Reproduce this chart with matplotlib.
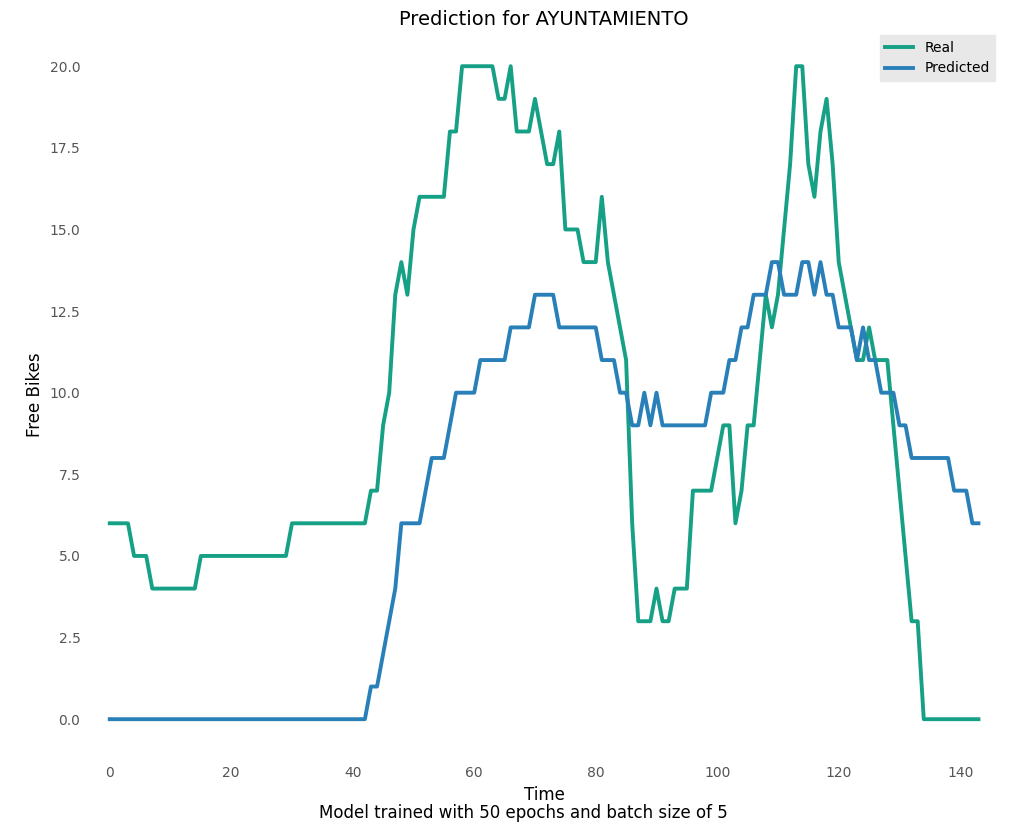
import numpy as np
import matplotlib.pyplot as plt

# real free bikes, one value per time step (0..143)
real = ([6]*4 + [5]*3 + [4]*8 + [5]*15 + [6]*13 + [7, 7, 9, 10, 13, 14, 13, 15]
        + [16]*5 + [18, 18] + [20]*6 + [19, 19, 20, 18, 18, 18, 19, 18, 17, 17, 18]
        + [15, 15, 15, 14, 14, 14, 16, 14, 13, 12, 11, 6, 3, 3, 3, 4, 3, 3, 4, 4, 4]
        + [7, 7, 7, 7, 8, 9, 9, 6, 7, 9, 9, 11, 13, 12, 13, 15, 17, 20, 20, 17, 16]
        + [18, 19, 17, 14, 13, 12, 11, 11, 12, 11, 11, 11, 9, 7, 5, 3, 3] + [0]*10)

predicted = ([0]*43 + [1, 1, 2, 3, 4, 6, 6, 6, 6, 7, 8, 8, 8, 9, 10, 10, 10, 10]
             + [11]*5 + [12]*4 + [13]*4 + [12]*7 + [11]*3 + [10, 10, 9, 9, 10, 9, 10]
             + [9]*8 + [10]*3 + [11, 11, 12, 12, 13, 13, 13, 14, 14, 13, 13, 13]
             + [14, 14, 13, 14, 13, 13, 12, 12, 12, 11, 12, 11, 11, 10, 10, 10, 9, 9]
             + [8]*7 + [7]*3 + [6]*2)

time = np.arange(len(real))

fig, ax = plt.subplots(figsize=(10.17, 8.39), dpi=100)
ax.plot(time, real, color='#16a085', lw=2.8, label='Real')
ax.plot(time, predicted, color='#2980b9', lw=2.8, label='Predicted')

ax.set_xlim(-3, 146)
ax.set_ylim(-1.1, 21)
ax.set_title('Prediction for AYUNTAMIENTO', fontsize=14)
ax.set_xlabel('Time', fontsize=12)
ax.set_ylabel('Free Bikes', fontsize=12)
for s in ax.spines.values():
    s.set_visible(False)
ax.tick_params(length=0, colors='#555555', labelsize=10, pad=8)
leg = ax.legend(loc='upper right', facecolor='#e8e8e8', edgecolor='#e8e8e8',
                framealpha=1, fancybox=False, borderaxespad=0.1)
fig.text(0.515, 0.025, 'Model trained with 50 epochs and batch size of 5',
         ha='center', fontsize=12)
plt.subplots_adjust(left=0.09, right=0.98, top=0.96, bottom=0.1)
plt.savefig('out.png')
